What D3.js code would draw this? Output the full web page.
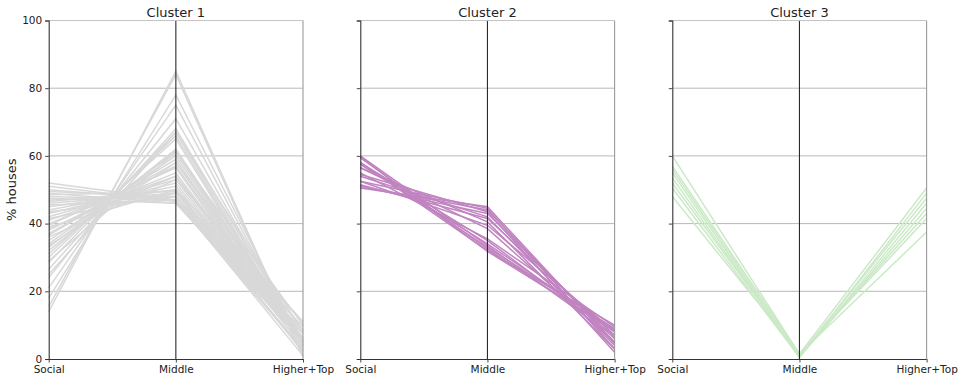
<!DOCTYPE html>
<html>
<head>
<meta charset="utf-8">
<script src="https://cdn.jsdelivr.net/npm/d3@7"></script>
<style>
  html, body { margin: 0; padding: 0; background: #fff; }
  svg { display: block; font-family: "DejaVu Sans", sans-serif; }
</style>
</head>
<body>
<svg id="chart" width="963" height="380"></svg>
<script>
// Axis categories and tick labels
const categories = ["Social", "Middle", "Higher+Top"];
const yTicks = [0, 20, 40, 60, 80, 100];
const clusterNames = ["Cluster 1", "Cluster 2", "Cluster 3"];
const clusterColors = ["#d8d8d8", "#c084c0", "#cbe9c7"];

// Cluster 1: share of houses per tenure type, one entry per area
const c1Social = [14, 15.5, 18, 21, 24, 25, 26.5, 28.5, 29, 30, 31, 32, 33, 33.5, 34, 35, 36, 36.5, 37, 38, 38.5, 39, 39.5, 40, 41, 41.5, 42, 43, 43.5, 44, 45, 45.5, 46, 46.5, 47, 47.5, 48, 48.5, 49, 49.5, 50, 51, 52];
const c1Middle = [85, 84, 78, 75, 71, 67, 68, 67, 61, 66, 65, 62, 61.5, 58, 61, 60, 53, 59, 58, 57, 54, 50, 56.5, 55, 54, 49, 53, 52, 48, 51, 50, 47, 49, 50, 48, 46, 47, 49.5, 46, 48, 47, 46.5, 47];
const c1Higher = [1, 0.5, 4, 4, 5, 8, 5.5, 4.5, 10, 4, 4, 6, 5.5, 8.5, 5, 5, 11, 4.5, 5, 5, 7.5, 11, 4, 5, 5, 9.5, 5, 5, 8.5, 5, 5, 7.5, 5, 3.5, 5, 6.5, 5, 2, 5, 2.5, 3, 2.5, 1];

// Cluster 2
const c2Social = [50.5, 52.5, 51, 54.5, 51, 54, 51.5, 56.5, 52.5, 56.5, 55, 58, 57.5, 60, 58, 59.5, 58, 59.7];
const c2Middle = [45, 44.5, 44, 43.5, 43, 42, 41.5, 40.5, 39.5, 38.5, 35.5, 35, 34, 33.5, 33, 32.5, 32, 31.8];
const c2Higher = [4.5, 3, 5, 2, 6, 4, 7, 3, 8, 5, 9.5, 7, 8.5, 6.5, 9, 8, 10, 8.5];

// Cluster 3
const c3Social = [60, 57, 56, 55, 53.5, 52, 50.5, 48];
const c3Middle = [1.5, 1.5, 1, 0.5, 0.5, 1, 0.5, 1.5];
const c3Higher = [37.5, 41.5, 43, 44.5, 46, 47.5, 49, 50.5];

const clusters = [
  [c1Social, c1Middle, c1Higher],
  [c2Social, c2Middle, c2Higher],
  [c3Social, c3Middle, c3Higher]
];

const svg = d3.select("#chart");
const panelLefts = [48.7, 360.3, 672.3];
const panelW = 254.3;
const plotTop = 20.5, plotBottom = 359;

const y = d3.scaleLinear().domain([0, 100]).range([plotBottom, plotTop]);

clusters.forEach((cols, ci) => {
  const left = panelLefts[ci];
  const x = d3.scalePoint().domain(categories).range([left, left + panelW]);
  const g = svg.append("g");

  // horizontal grid
  g.selectAll("line.grid").data(yTicks.filter(t => t > 0 && t < 100)).enter()
    .append("line")
    .attr("x1", left).attr("x2", left + panelW)
    .attr("y1", d => y(d)).attr("y2", d => y(d))
    .attr("stroke", "#b8b8b8").attr("stroke-width", 1);

  // one polyline per area
  const rows = cols[0].map((_, i) => categories.map((c, k) => [c, cols[k][i]]));
  const line = d3.line().x(d => x(d[0])).y(d => y(d[1]));
  g.selectAll("path.series").data(rows).enter()
    .append("path")
    .attr("d", line)
    .attr("fill", "none")
    .attr("stroke", clusterColors[ci])
    .attr("stroke-width", 1.5);

  // vertical axis lines at each category
  g.append("line")
    .attr("x1", x("Middle")).attr("x2", x("Middle"))
    .attr("y1", plotTop).attr("y2", plotBottom)
    .attr("stroke", "#2b2b2b").attr("stroke-width", 1.1);
  g.append("line")
    .attr("x1", x("Higher+Top")).attr("x2", x("Higher+Top"))
    .attr("y1", plotTop).attr("y2", plotBottom)
    .attr("stroke", "#9a9a9a").attr("stroke-width", 1.1);
  // top frame
  g.append("line")
    .attr("x1", left).attr("x2", left + panelW)
    .attr("y1", plotTop).attr("y2", plotTop)
    .attr("stroke", "#c4c4c4").attr("stroke-width", 1.1);

  // left axis
  const yAxis = d3.axisLeft(y).tickValues(yTicks).tickSize(3.5).tickPadding(3)
    .tickFormat(ci === 0 ? d3.format("d") : () => "");
  const ya = g.append("g").attr("transform", `translate(${left},0)`).call(yAxis);
  ya.select(".domain").attr("stroke", "#333").attr("stroke-width", 1.1);
  ya.selectAll(".tick line").attr("stroke", "#333").attr("stroke-width", 0.9);
  ya.selectAll("text").attr("font-size", 10.5).attr("fill", "#222")
    .attr("font-family", "DejaVu Sans");

  // bottom axis
  const xAxis = d3.axisBottom(x).tickSize(3.5).tickPadding(3.5);
  const xa = g.append("g").attr("transform", `translate(0,${plotBottom})`).call(xAxis);
  xa.select(".domain").attr("d", `M${left},0.5H${left + panelW}`)
    .attr("stroke", "#333").attr("stroke-width", 1.1);
  xa.selectAll(".tick line").attr("stroke", "#333").attr("stroke-width", 0.9);
  xa.selectAll("text").attr("font-size", 10.5).attr("fill", "#222")
    .attr("font-family", "DejaVu Sans");

  // title
  g.append("text")
    .attr("x", left + panelW / 2).attr("y", 17)
    .attr("text-anchor", "middle")
    .attr("font-size", 13).attr("fill", "#222")
    .text(clusterNames[ci]);
});

// y label
svg.append("text")
  .attr("transform", `translate(16,${(plotTop + plotBottom) / 2}) rotate(-90)`)
  .attr("text-anchor", "middle")
  .attr("font-size", 13).attr("fill", "#222")
  .text("% houses");
</script>
</body>
</html>
